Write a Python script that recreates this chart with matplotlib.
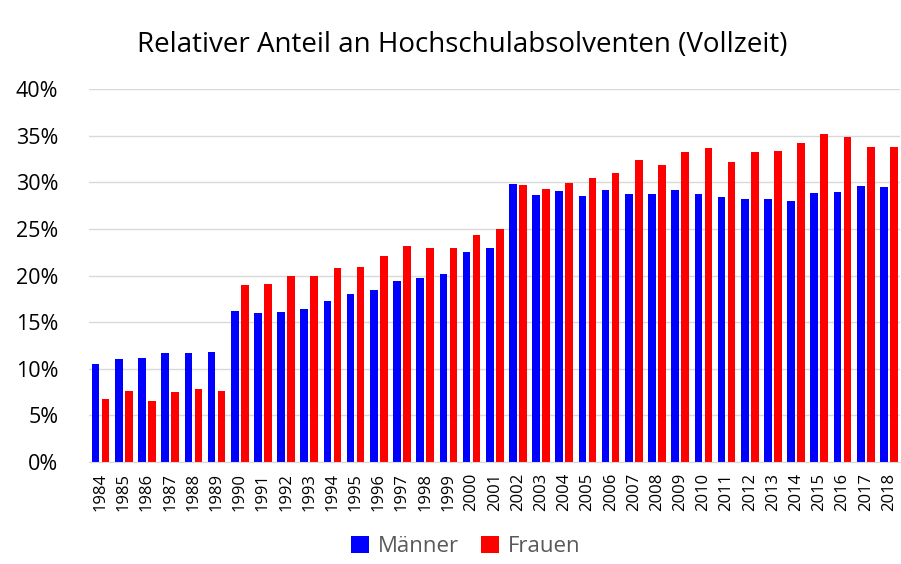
import numpy as np
import matplotlib.pyplot as plt

# data (percent)
years = [str(y) for y in range(1984, 2019)]
maenner = [10.5, 11.0, 11.1, 11.7, 11.7, 11.8,
           16.2, 16.0, 16.1, 16.4, 17.3, 18.0, 18.4, 19.4, 19.7, 20.2,
           22.5, 22.9, 29.8, 28.6, 29.1, 28.5, 29.2, 28.7, 28.7, 29.2,
           28.7, 28.4, 28.2, 28.2, 28.0, 28.9, 29.0, 29.6, 29.5]
frauen = [6.7, 7.6, 6.5, 7.5, 7.8, 7.6,
          19.0, 19.1, 19.9, 19.9, 20.8, 20.9, 22.1, 23.2, 23.0, 23.0,
          24.3, 25.0, 29.7, 29.3, 29.9, 30.5, 31.0, 32.4, 31.9, 33.2,
          33.7, 32.2, 33.3, 33.4, 34.2, 35.2, 34.9, 33.8, 33.8]
yticks = [0, 5, 10, 15, 20, 25, 30, 35, 40]

plt.rcParams['font.family'] = ['Open Sans', 'DejaVu Sans']

fig = plt.figure(figsize=(9.01, 5.64), dpi=100)
ax = fig.add_axes([0.0988, 0.181, 0.9006, 0.661])

x = np.arange(len(years))
w = 0.33
ax.bar(x - 0.216, maenner, width=w, color='#0000ff', label='Männer')
ax.bar(x + 0.216, frauen, width=w, color='#ff0000', label='Frauen')

ax.set_xlim(-0.5, len(years) - 0.5)
ax.set_ylim(0, 40)
ax.set_yticks(yticks)
ax.set_yticklabels([f'{v}%' for v in yticks], fontsize=15.5)
ax.set_xticks(x)
ax.set_xticklabels(years, rotation=90, fontsize=12)
ax.tick_params(length=0)
ax.tick_params(axis='y', pad=22)
ax.tick_params(axis='x', pad=8)
ax.grid(axis='y', color='#d9d9d9', lw=1)
ax.set_axisbelow(True)
for s in ('top', 'right', 'left'):
    ax.spines[s].set_visible(False)
ax.spines['bottom'].set_color('#d9d9d9')

fig.text(0.513, 0.92, 'Relativer Anteil an Hochschulabsolventen (Vollzeit)',
         ha='center', va='center', fontsize=20)

leg = fig.legend(loc='center', bbox_to_anchor=(0.517, 0.031), ncol=2,
                 frameon=False, fontsize=16, handlelength=0.8, handleheight=0.8,
                 handletextpad=0.4, columnspacing=1.0)
for t in leg.get_texts():
    t.set_color('#595959')

fig.savefig('out.png', dpi=100)
